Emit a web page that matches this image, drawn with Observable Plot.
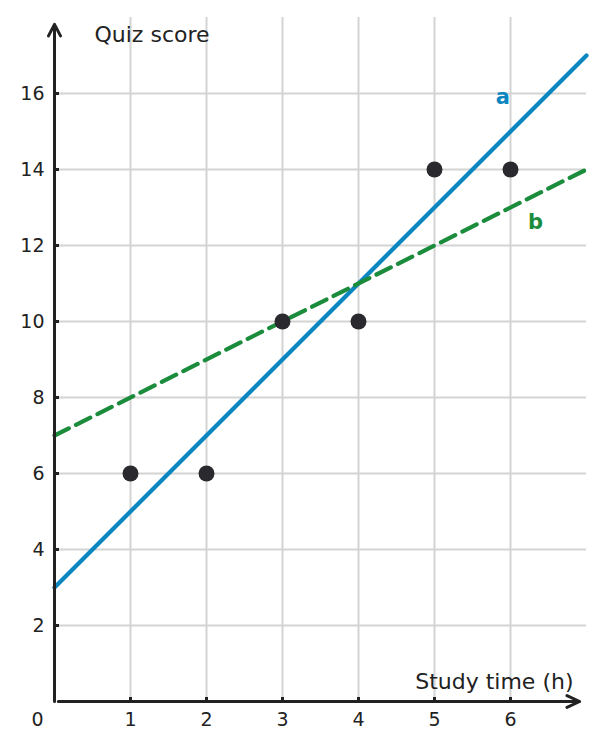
<!DOCTYPE html>
<html>
<head>
<meta charset="utf-8">
<script src="https://cdn.jsdelivr.net/npm/d3@7"></script>
<script src="https://cdn.jsdelivr.net/npm/@observablehq/plot@0.6"></script>
<style>
  body { margin: 0; background: #fff; }
  svg { display: block; }
</style>
</head>
<body>
<div id="chart"></div>
<script>
// Data
const studyTime = [1, 2, 3, 4, 5, 6];
const quizScore = [6, 6, 10, 10, 14, 14];
const lineAX = [0, 7];
const lineAY = [3, 17];
const lineBX = [0, 7];
const lineBY = [7, 14];
const xTicks = [1, 2, 3, 4, 5, 6];
const yTicks = [2, 4, 6, 8, 10, 12, 14, 16];
const labelA = {x: 5.9, y: 15.9, text: "a"};
const labelB = {x: 6.33, y: 12.6, text: "b"};
const xAxisEnd = 6.91;
const yAxisEnd = 17.82;
const xDomain = [0, 7];
const yDomain = [0, 18];
const yTickLen = 0.066; // ~5px in x units
const xTickLen = 0.105; // ~4px in y units

const points = studyTime.map((x, i) => ({x, y: quizScore[i]}));
const lineA = lineAX.map((x, i) => ({x, y: lineAY[i]}));
const lineB = lineBX.map((x, i) => ({x, y: lineBY[i]}));

const blue = "#0a86c0";
const green = "#1a8c3c";
const ink = "#222222";
const grid = "#d4d4d4";
const font = "DejaVu Sans, sans-serif";

const chart = Plot.plot({
  width: 603,
  height: 749,
  marginLeft: 54,
  marginRight: 17,
  marginTop: 17,
  marginBottom: 48,
  style: {fontFamily: font, background: "#fff", color: ink},
  x: {domain: xDomain, axis: null},
  y: {domain: yDomain, axis: null},
  marks: [
    Plot.ruleX(xTicks, {x: d => d, stroke: grid, strokeWidth: 2}),
    Plot.ruleY(yTicks, {y: d => d, stroke: grid, strokeWidth: 2}),
    Plot.line(lineA, {x: "x", y: "y", stroke: blue, strokeWidth: 4.2}),
    Plot.line(lineB, {x: "x", y: "y", stroke: green, strokeWidth: 4.2, strokeDasharray: "16,8"}),
    Plot.dot(points, {x: "x", y: "y", r: 8, fill: "#2a2a2e", stroke: "none"}),
    // axes
    Plot.arrow([0], {x1: 0, y1: 0, x2: 0, y2: yAxisEnd, stroke: ink, strokeWidth: 3, headLength: 6.5, headAngle: 55, insetStart: 0, insetEnd: 0}),
    Plot.arrow([0], {x1: 0.05, y1: 0, x2: xAxisEnd, y2: 0, stroke: ink, strokeWidth: 3, headLength: 7, headAngle: 50, insetStart: 0, insetEnd: 0}),
    Plot.ruleY(yTicks, {y: d => d, x1: 0, x2: yTickLen, stroke: ink, strokeWidth: 3}),
    Plot.ruleX(xTicks, {x: d => d, y1: 0, y2: xTickLen, stroke: ink, strokeWidth: 3}),
    Plot.text(yTicks, {x: 0, y: d => d, text: d => String(d), dx: -10, textAnchor: "end", fontSize: 19, fill: ink}),
    Plot.text(xTicks, {x: d => d, y: 0, text: d => String(d), dy: 11, lineAnchor: "top", fontSize: 19, fill: ink}),
    Plot.text([0], {x: 0, y: 0, text: d => String(d), dx: -17, dy: 11, lineAnchor: "top", fontSize: 19, fill: ink}),
    // axis titles
    Plot.text(["Quiz score"], {frameAnchor: "top-left", textAnchor: "start", lineAnchor: "middle", dx: 40, dy: 17.5, fontSize: 22, fill: ink}),
    Plot.text(["Study time (h)"], {frameAnchor: "bottom-right", textAnchor: "end", lineAnchor: "middle", dx: -13, dy: -20, fontSize: 22, fill: ink}),
    // line labels
    Plot.text([labelA], {x: "x", y: "y", text: "text", fill: blue, fontSize: 21, fontWeight: "bold"}),
    Plot.text([labelB], {x: "x", y: "y", text: "text", fill: green, fontSize: 21, fontWeight: "bold"})
  ]
});
document.getElementById("chart").appendChild(chart);
</script>
</body>
</html>
